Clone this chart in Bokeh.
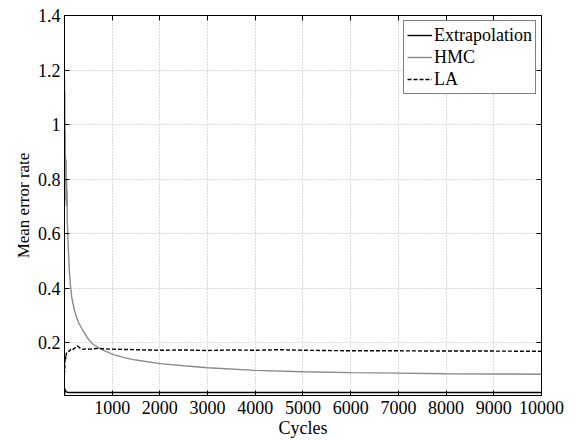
from bokeh.plotting import figure
from bokeh.models import FixedTicker, LinearAxis, Range1d, Legend, LegendItem
from bokeh.embed import file_html
from bokeh.resources import INLINE

# ---- data ----
hmc_cycles = [1, 4, 8, 12, 16, 20, 25, 30, 35, 40, 45, 50, 55, 60, 70, 80, 100, 125, 150,
              200, 250, 300, 400, 500, 600, 750, 1000, 1250, 1500, 2000, 2500, 3000, 4000,
              5000, 6000, 7000, 8000, 9000, 10000]
hmc_err = [1.18, 1.0, 1.12, 0.9, 0.98, 0.85, 0.88, 0.72, 0.87, 0.7, 0.8, 0.72, 0.76, 0.64,
           0.6, 0.55, 0.47, 0.41, 0.37, 0.325, 0.295, 0.272, 0.24, 0.213, 0.194, 0.177, 0.158,
           0.145, 0.136, 0.123, 0.115, 0.108, 0.098, 0.093, 0.09, 0.088, 0.086, 0.085, 0.084]

la_cycles = [1, 5, 10, 20, 30, 40, 60, 80, 100, 130, 160, 200, 230, 270, 300, 340, 380, 450,
             550, 700, 850, 1000, 1500, 2000, 2500, 3000, 3500, 4000, 4500, 5000, 5500, 6000,
             7000, 8000, 9000, 10000]
la_err = [0.12, 0.09, 0.13, 0.15, 0.14, 0.16, 0.165, 0.17, 0.168, 0.175, 0.172, 0.178, 0.182,
          0.188, 0.184, 0.178, 0.175, 0.177, 0.176, 0.179, 0.177, 0.176, 0.174, 0.172, 0.173,
          0.171, 0.173, 0.172, 0.174, 0.172, 0.171, 0.170, 0.170, 0.169, 0.169, 0.168]

ext_cycles = [1, 10, 30, 60, 100, 200, 500, 1000, 2000, 5000, 10000]
ext_err = [0.006, 0.03, 0.02, 0.018, 0.017, 0.017, 0.017, 0.017, 0.017, 0.017, 0.017]

x_ticks = [1000, 2000, 3000, 4000, 5000, 6000, 7000, 8000, 9000, 10000]
y_ticks = [0.2, 0.4, 0.6, 0.8, 1.0, 1.2, 1.4]
x_label = "Cycles"
y_label = "Mean error rate"
series_names = ["Extrapolation", "HMC", "LA"]

FONT = "Liberation Serif"

p = figure(width=570, height=440, output_backend="svg", toolbar_location=None,
           x_range=Range1d(1, 10000), y_range=Range1d(0.006, 1.4),
           min_border_left=64, min_border_right=29, min_border_top=15, min_border_bottom=45)
p.background_fill_color = "white"
p.border_fill_color = "white"
p.outline_line_color = "black"
p.outline_line_width = 1

r_ext = p.line(ext_cycles, ext_err, line_color="black", line_width=1.4)
r_hmc = p.line(hmc_cycles, hmc_err, line_color="#8a8a8a", line_width=1.4)
r_la = p.line(la_cycles, la_err, line_color="black", line_width=1.4, line_dash="4 2")

def style_axis(ax):
    ax.major_tick_in = 5
    ax.major_tick_out = 0
    ax.minor_tick_line_color = None
    ax.axis_line_color = "black"
    ax.major_tick_line_color = "black"
    ax.major_label_text_font = FONT
    ax.major_label_text_color = "black"
    ax.major_label_text_font_size = "18px"

p.xaxis.ticker = FixedTicker(ticks=x_ticks)
p.yaxis.ticker = FixedTicker(ticks=y_ticks)
p.yaxis.major_label_overrides = {1.0: "1"}
style_axis(p.xaxis[0])
style_axis(p.yaxis[0])
p.xaxis.major_label_standoff = 5
p.yaxis.major_label_standoff = 4
p.xaxis.axis_label = x_label
p.yaxis.axis_label = y_label
for ax in (p.xaxis[0], p.yaxis[0]):
    ax.axis_label_text_font = FONT
    ax.axis_label_text_font_style = "normal"
    ax.axis_label_text_color = "black"
p.xaxis.axis_label_text_font_size = "18px"
p.yaxis.axis_label_text_font_size = "17px"
p.xaxis.axis_label_standoff = 1
p.yaxis.axis_label_standoff = 2

top_ax = LinearAxis(ticker=FixedTicker(ticks=x_ticks))
right_ax = LinearAxis(ticker=FixedTicker(ticks=y_ticks))
for ax, ticks in ((top_ax, x_ticks), (right_ax, y_ticks)):
    style_axis(ax)
    ax.major_label_overrides = {t: "" for t in ticks}
    ax.major_label_standoff = 0
p.add_layout(top_ax, "above")
p.add_layout(right_ax, "right")

p.xgrid.ticker = FixedTicker(ticks=x_ticks)
p.ygrid.ticker = FixedTicker(ticks=y_ticks)
p.grid.grid_line_color = "#b4b4b4"
p.grid.grid_line_dash = "1 2"
p.grid.grid_line_width = 1

legend = Legend(items=[LegendItem(label=series_names[0], renderers=[r_ext]),
                       LegendItem(label=series_names[1], renderers=[r_hmc]),
                       LegendItem(label=series_names[2], renderers=[r_la])],
                location="top_right")
legend.margin = 5
legend.padding = 3
legend.spacing = 0
legend.glyph_width = 25
legend.glyph_height = 22
legend.label_height = 22
legend.label_standoff = 2
legend.label_text_font = FONT
legend.label_text_font_size = "18px"
legend.label_text_color = "black"
legend.border_line_color = "black"
legend.border_line_width = 1
legend.background_fill_alpha = 1
p.add_layout(legend)

open("out.html", "w").write(file_html(p, INLINE))
